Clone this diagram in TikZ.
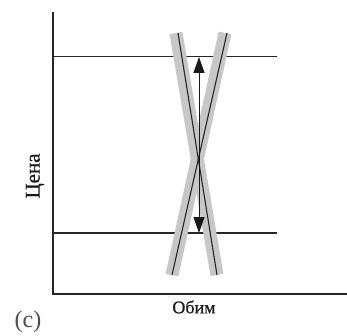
\documentclass[tikz,border=0pt]{standalone}
\usepackage{fontspec}
\setmainfont{Liberation Serif}
\newfontfamily\lblfont[FakeBold=0.6]{Liberation Serif}
\usetikzlibrary{arrows.meta}
\begin{document}
\begin{tikzpicture}[x=1pt,y=-1pt,
  axis/.style={line width=1.6pt,black!85},
  level/.style={line width=1.2pt,black!85},
  band/.style={line width=13pt,black!22},
  curve/.style={line width=1.1pt,black!85},
  move/.style={line width=1pt,black!90,{Triangle[length=16pt,width=11pt]}-{Triangle[length=16pt,width=11pt]}},
  lbl/.style={font=\lblfont\fontsize{18}{18}\selectfont,text=black!90,inner sep=0pt}]
\useasboundingbox (0,0) rectangle (347,336);
% axes
\coordinate (ytop) at (53,12);
\coordinate (origin) at (53,294);
\coordinate (xend) at (347,294);
\draw[axis] (ytop) -- (origin) -- (xend);
% price levels
\coordinate (hiL) at (53,56.5);
\coordinate (hiR) at (277,56.5);
\coordinate (loL) at (53,233);
\coordinate (loR) at (277,233);
\draw[level] (hiL) -- (hiR);
\draw[level] (loL) -- (loR);
% bands
\coordinate (aT) at (178,33);
\coordinate (aB) at (217,275);
\coordinate (bT) at (227,33);
\coordinate (bB) at (172,275);
\coordinate (abT) at (176,33);
\coordinate (abB) at (217,275);
\coordinate (bbT) at (225,33);
\coordinate (bbB) at (172,275);
\draw[band] (abT) -- (abB);
\draw[band] (bbT) -- (bbB);
\draw[curve] (aT) -- (aB);
\draw[curve] (bT) -- (bB);
% arrow
\coordinate (arT) at (199,57);
\coordinate (arB) at (199,233);
\draw[move] (arB) -- (arT);
% labels
\node[lbl,rotate=90,font=\lblfont\fontsize{21}{21}\selectfont] (price) at (35,176) {Цена};
\node[lbl] (volume) at (194,307) {Обим};
\node[lbl,text=black!70,font=\fontsize{24}{24}\selectfont] (tag) at (28,322) {(c)};
\end{tikzpicture}
\end{document}
